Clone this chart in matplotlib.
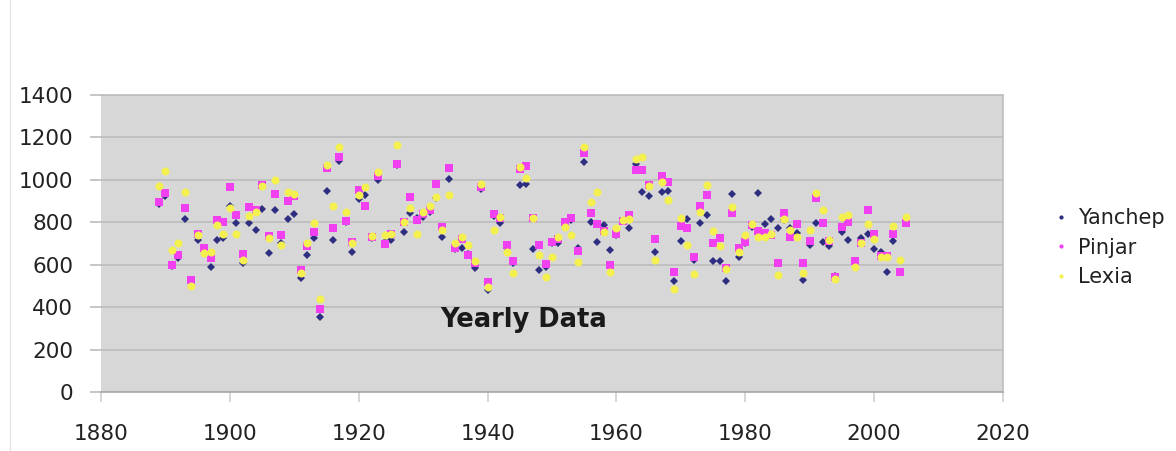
import matplotlib
matplotlib.use("Agg")
import matplotlib.pyplot as plt
from matplotlib.lines import Line2D

years = list(range(1889, 2006))

yanchep = [886, 924, 595, 632, 814, 515, 716, 665, 591, 716, 728, 878, 798, 610, 798, 764, 863, 657, 858, 700,
           814, 838, 536, 646, 724, 355, 949, 716, 1091, 800, 661, 908, 929, 725, 1000, 709, 716, 1070, 753, 842,
           820, 827, 850, 915, 729, 1004, 675, 677, 650, 583, 955, 481, 830, 795, 680, 610, 974, 980, 674, 575,
           590, 700, 701, 790, 810, 677, 1086, 799, 709, 787, 669, 740, 805, 772, 1073, 941, 924, 658, 944, 948,
           521, 712, 814, 620, 798, 834, 618, 618, 523, 932, 638, 700, 780, 936, 792, 814, 772, 810, 772, 751,
           528, 693, 798, 709, 690, 547, 756, 716, 610, 728, 745, 673, 661, 564, 712, 565, 795]

pinjar = [897, 937, 600, 646, 866, 528, 745, 680, 630, 811, 803, 966, 836, 649, 874, 860, 976, 737, 932, 740,
          900, 925, 575, 690, 756, 390, 1055, 775, 1110, 806, 709, 952, 877, 730, 1020, 696, 745, 1075, 800, 921,
          811, 840, 860, 979, 776, 1058, 680, 720, 646, 610, 965, 520, 840, 820, 694, 618, 1050, 1066, 818, 693,
          603, 705, 720, 803, 819, 666, 1125, 846, 791, 760, 599, 744, 808, 834, 1045, 1045, 976, 722, 1016, 992,
          568, 784, 775, 637, 878, 929, 704, 728, 585, 842, 677, 709, 787, 760, 751, 740, 607, 846, 729, 792,
          607, 713, 913, 795, 710, 540, 779, 803, 619, 700, 858, 745, 640, 640, 743, 564, 798]

lexia = [971, 1043, 669, 704, 941, 500, 740, 657, 661, 787, 745, 866, 744, 624, 830, 850, 970, 724, 1000, 693,
         944, 935, 560, 700, 798, 437, 1070, 878, 1157, 850, 700, 930, 968, 735, 1035, 740, 745, 1164, 803, 866,
         745, 850, 877, 921, 765, 929, 700, 732, 693, 619, 979, 496, 764, 827, 659, 560, 1060, 1007, 821, 646,
         544, 636, 732, 779, 742, 614, 1155, 894, 942, 756, 567, 772, 813, 815, 1098, 1110, 970, 622, 990, 905,
         485, 819, 693, 556, 847, 976, 760, 688, 578, 874, 661, 740, 790, 732, 732, 745, 552, 816, 764, 732,
         560, 764, 936, 858, 716, 533, 827, 834, 591, 704, 790, 721, 637, 635, 784, 622, 827]

series_names = ["Yanchep", "Pinjar", "Lexia"]
x_ticks = [1880, 1900, 1920, 1940, 1960, 1980, 2000, 2020]
y_ticks = [0, 200, 400, 600, 800, 1000, 1200, 1400]
annotation = "Yearly Data"

fig = plt.figure(figsize=(11.76, 4.51), dpi=100)
ax = fig.add_axes([0.0859, 0.1308, 0.767, 0.6586])
ax.set_facecolor("#d7d7d7")

styles = [
    dict(marker="D", color="#2e2e80", ms=4.4),
    dict(marker="s", color="#f040f0", ms=5.4),
    dict(marker="o", color="#f4f050", ms=5.8),
]
for vals, st, name in zip([yanchep, pinjar, lexia], styles, series_names):
    ax.plot(years, vals, linestyle="none", marker=st["marker"], color=st["color"],
            markersize=st["ms"], markeredgewidth=0, label=name, zorder=3)

ax.set_xlim(1880, 2020)
ax.set_ylim(0, 1400)
ax.set_xticks(x_ticks)
ax.set_yticks(y_ticks)
ax.grid(axis="y", color="#bcbcbc", linewidth=1.2, zorder=1)
ax.set_axisbelow(True)

for side in ["top", "right"]:
    ax.spines[side].set_color("#bdbdbd")
    ax.spines[side].set_linewidth(1.2)
ax.spines["left"].set_visible(False)
ax.spines["bottom"].set_color("#a8a8a8")
ax.spines["bottom"].set_linewidth(1.2)

ax.tick_params(axis="y", length=8, color="#bcbcbc", width=1.2, pad=12, labelsize=15.5, labelcolor="#222222")
ax.tick_params(axis="x", length=7, color="#d0d0d0", width=1.2, pad=16, labelsize=15.5, labelcolor="#222222")

ax.text(0.469, 0.242, annotation, transform=ax.transAxes, ha="center", va="center",
        fontsize=18.5, fontweight="bold", color="#1a1a1a")

handles = [Line2D([], [], linestyle="none", marker="o", color=st["color"], markersize=3,
                  markeredgewidth=0) for st in styles]
fig.legend(handles, series_names, loc="center left", bbox_to_anchor=(0.888, 0.451),
           frameon=False, fontsize=15, handlelength=0.6, handletextpad=0.5,
           borderpad=0, labelspacing=0.45, labelcolor="#222222")

fig.add_artist(Line2D([0.0085, 0.0085], [0.0, 1.0], transform=fig.transFigure,
                      color="#e6e6e6", linewidth=1))

fig.savefig("out.png", dpi=100, facecolor="white")
